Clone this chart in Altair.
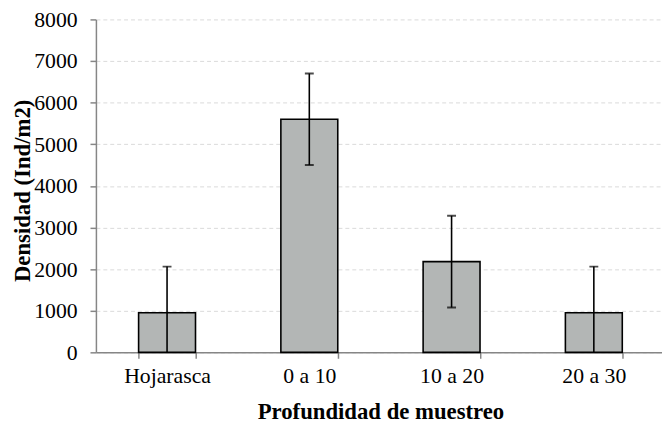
import altair as alt
import pandas as pd

categorias = ["Hojarasca", "0 a 10", "10 a 20", "20 a 30"]
densidad = [950, 5600, 2180, 950]
error = [1110, 1100, 1100, 1110]
y_ticks = [0, 1000, 2000, 3000, 4000, 5000, 6000, 7000, 8000]

df = pd.DataFrame({"cat": categorias, "dens": densidad, "err": error})
df["lo"] = df["dens"] - df["err"]
df["hi"] = df["dens"] + df["err"]

YT = "Densidad (Ind/m2)"
xs = alt.Scale(paddingInner=0.6, paddingOuter=0.3)
ys = alt.Scale(domain=[0, 8000], nice=False)

x_enc = alt.X(
    "cat:N", sort=categorias, scale=xs,
    axis=alt.Axis(
        title="Profundidad de muestreo", labelAngle=0, tickBand="extent",
        tickSize=6, labelPadding=8, grid=False, labelFontSize=22,
        titleY=67, titleBaseline="alphabetic",
    ),
)
y_enc = alt.Y(
    "dens:Q", scale=ys, title=YT,
    axis=alt.Axis(
        values=y_ticks, format="d", tickSize=6, labelPadding=13, grid=True,
        labelFontSize=22,
        gridColor="#d9d9d9", gridDash=[4, 3], gridWidth=1,
        titleAngle=270, titleBaseline="alphabetic", titleX=-67, titleY=173,
        titleAlign="center",
    ),
)

bars = alt.Chart(df).mark_bar(
    fill="#b3b6b5", stroke="black", strokeWidth=1.6
).encode(x=x_enc, y=y_enc)

rule = alt.Chart(df).mark_rule(color="black", strokeWidth=1.6, clip=True).encode(
    x=alt.X("cat:N", sort=categorias),
    y=alt.Y("lo:Q", title=YT),
    y2="hi:Q",
)
cap_hi = alt.Chart(df).mark_tick(color="black", size=9, thickness=2, clip=True).encode(
    x=alt.X("cat:N", sort=categorias),
    y=alt.Y("hi:Q", title=YT),
)
cap_lo = alt.Chart(df).mark_tick(color="black", size=9, thickness=2, clip=True).encode(
    x=alt.X("cat:N", sort=categorias),
    y=alt.Y("lo:Q", title=YT),
)

chart = (
    alt.layer(bars, rule, cap_hi, cap_lo)
    .properties(
        width=576, height=337,
        autosize=alt.AutoSizeParams(type="none"),
        padding={"left": 89, "top": 9, "right": -3, "bottom": 72},
    )
    .configure(font="Liberation Serif")
    .configure_view(stroke=None)
    .configure_axis(
        domainColor="#868686", domainWidth=1.5,
        tickColor="#868686", tickWidth=1.5,
        labelColor="black", labelFont="Liberation Serif",
        titleFontSize=23, titleFontWeight="bold", titleColor="black",
        titleFont="Liberation Serif",
    )
)

chart.save("out.html", embed_options={"renderer": "svg", "actions": False})
